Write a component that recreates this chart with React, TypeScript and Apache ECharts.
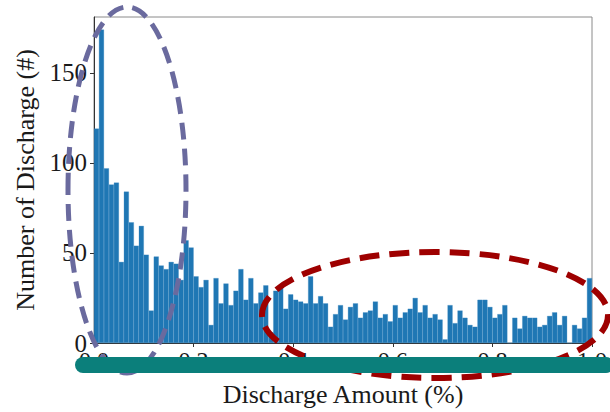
import React, { useEffect, useRef } from "react";
import * as echarts from "echarts";

// Histogram: 100 bins over 0.0 – 1.0 (% discharge amount)
const binCounts: number[] = [
  119, 174, 97, 88, 89, 45, 84, 67, 54, 65,
  49, 18, 48, 43, 41, 45, 44, 35, 57, 53,
  37, 31, 35, 10, 36, 22, 33, 21, 29, 41,
  24, 36, 22, 28, 32, 6, 29, 31, 19, 27,
  24, 23, 22, 37, 22, 26, 22, 9, 16, 21,
  13, 20, 22, 14, 17, 18, 23, 14, 16, 12,
  21, 14, 17, 19, 25, 17, 21, 14, 16, 13,
  2, 21, 11, 18, 14, 10, 9, 24, 24, 20,
  14, 16, 21, 0, 14, 8, 15, 14, 14, 9,
  10, 15, 17, 10, 15, 0, 10, 8, 14, 36,
];
const binLabels: string[] = binCounts.map((_, i) => (i * 0.01 + 0.005).toFixed(3));
const xTickValues: number[] = [0, 0.2, 0.4, 0.6, 0.8, 1.0];
const yTickValues: number[] = [0, 50, 100, 150];
const xTitle = "Discharge Amount (%)";
const yTitle = "Number of Discharge (#)";

const SERIF = "'Liberation Serif', 'Times New Roman', serif";

export default function App() {
  const ref = useRef<HTMLDivElement>(null);
  useEffect(() => {
    if (!ref.current) return;
    const chart = echarts.init(ref.current, null, { renderer: "svg" });
    chart.setOption({
      animation: false,
      backgroundColor: "#ffffff",
      grid: {
        left: 94,
        right: 18,
        top: 17,
        bottom: 64,
        show: true,
        borderColor: "#8a8a8a",
        borderWidth: 1,
        backgroundColor: "transparent",
      },
      xAxis: [
        {
          type: "category",
          data: binLabels,
          show: false,
          boundaryGap: true,
        },
        {
          type: "value",
          min: 0,
          max: 1,
          interval: 0.2,
          position: "bottom",
          axisLine: { show: true, lineStyle: { color: "#333", width: 1 } },
          axisTick: { show: true, length: 4, lineStyle: { color: "#333" } },
          splitLine: { show: false },
          axisLabel: {
            formatter: (v: number) => v.toFixed(1),
            fontFamily: SERIF,
            fontSize: 24,
            color: "#1a1a1a",
            margin: 5,
            customValues: xTickValues,
          },
          name: xTitle,
          nameLocation: "middle",
          nameGap: 38,
          nameTextStyle: { fontFamily: SERIF, fontSize: 26, color: "#1a1a1a" },
        },
      ],
      yAxis: {
        type: "value",
        min: 0,
        max: 181,
        interval: 50,
        axisLine: { show: true, lineStyle: { color: "#333", width: 1 } },
        axisTick: { show: true, length: 4, customValues: yTickValues, lineStyle: { color: "#333" } },
        splitLine: { show: false },
        axisLabel: {
          fontFamily: SERIF,
          fontSize: 25,
          color: "#1a1a1a",
          margin: 7,
          customValues: yTickValues,
        },
        name: yTitle,
        nameLocation: "middle",
        nameGap: 52,
        nameTextStyle: { fontFamily: SERIF, fontSize: 26, color: "#1a1a1a" },
      },
      series: [
        {
          type: "bar",
          xAxisIndex: 0,
          data: binCounts,
          barWidth: "100%",
          barCategoryGap: "0%",
          itemStyle: { color: "#1f77b4", borderColor: "#3b89c2", borderWidth: 0.3 },
          emphasis: { disabled: true },
        },
      ],
      graphic: [
        {
          type: "ellipse",
          z: 100,
          silent: true,
          shape: { cx: 127, cy: 190, rx: 59, ry: 183 },
          style: { fill: "none", stroke: "#6a6a9e", lineWidth: 5, lineDash: [17, 9] },
        },
        {
          type: "ellipse",
          z: 100,
          silent: true,
          shape: { cx: 435, cy: 315, rx: 173, ry: 63 },
          style: { fill: "none", stroke: "#9e0000", lineWidth: 6, lineDash: [20, 10] },
        },
        {
          type: "line",
          z: 110,
          silent: true,
          shape: { x1: 83, y1: 365, x2: 606, y2: 365 },
          style: { stroke: "#0b7f7b", lineWidth: 16, lineCap: "round" },
        },
      ],
    });
    return () => chart.dispose();
  }, []);
  return (
    <div
      ref={ref}
      style={{ position: "fixed", left: 0, top: 0, width: 610, height: 412, background: "#fff" }}
    />
  );
}
